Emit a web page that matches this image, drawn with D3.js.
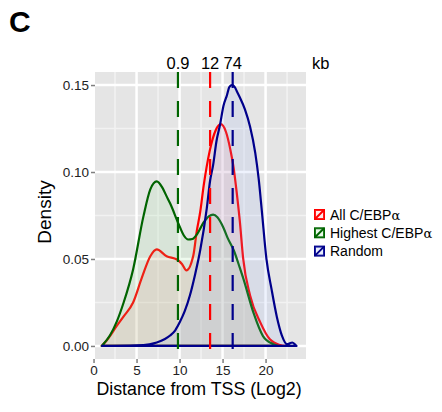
<!DOCTYPE html>
<html>
<head>
<meta charset="utf-8">
<script src="https://cdn.jsdelivr.net/npm/d3@7"></script>
<style>
body { margin: 0; background: #fff; }
text { font-family: "Liberation Sans", Arial, sans-serif; }
</style>
</head>
<body>
<svg id="d3" width="442" height="412"></svg>
<script>
// density curves, x = log2 distance, y = density
var allX = [0.95, 1.5, 2.7, 3.5, 4.6, 5.6, 6.6, 7.35, 8.5, 9.7, 10.3, 10.8, 11.6, 12.0, 12.4, 12.8, 13.5, 14.2, 14.8, 15.4, 15.9, 16.3, 16.65, 17.0, 17.4, 18.2, 19.4, 20.5, 21.7, 22.3];
var allY = [0, 0.003, 0.0115, 0.017, 0.025, 0.039, 0.0516, 0.0555, 0.0516, 0.0497, 0.047, 0.0434, 0.052, 0.066, 0.077, 0.092, 0.112, 0.124, 0.1275, 0.123, 0.113, 0.102, 0.088, 0.072, 0.05, 0.029, 0.0134, 0.0038, 0.0005, 0];

var highX = [0.95, 1.9, 2.7, 3.5, 4.6, 5.8, 6.6, 7.35, 8.0, 8.5, 8.9, 9.9, 10.5, 11.0, 11.5, 12.0, 12.8, 13.4, 13.9, 14.4, 15.1, 15.6, 16.3, 17.0, 17.4, 18.6, 19.7, 20.9, 21.5];
var highY = [0, 0.006, 0.014, 0.025, 0.044, 0.0745, 0.09, 0.0946, 0.091, 0.086, 0.082, 0.07, 0.0635, 0.0612, 0.0615, 0.064, 0.071, 0.0745, 0.0755, 0.074, 0.068, 0.062, 0.055, 0.045, 0.039, 0.019, 0.0057, 0.001, 0];

var randX = [1.0, 5.0, 6.5, 7.35, 8.3, 8.9, 9.5, 10.06, 10.6, 11.2, 11.8, 12.4, 13.16, 13.55, 13.9, 14.3, 14.7, 15.1, 15.5, 15.8, 16.1, 16.4, 16.7, 17.0, 17.6, 18.2, 18.8, 19.2, 19.56, 20.1, 20.7, 21.3, 21.9, 22.5, 22.8, 23.1, 23.4, 23.6];
var randY = [0, 0.0003, 0.001, 0.002, 0.004, 0.006, 0.009, 0.014, 0.02, 0.029, 0.041, 0.055, 0.079, 0.095, 0.104, 0.118, 0.127, 0.138, 0.144, 0.149, 0.15, 0.149, 0.146, 0.143, 0.136, 0.126, 0.111, 0.096, 0.078, 0.05, 0.0325, 0.017, 0.006, 0.001, 0.0015, 0.002, 0.001, 0];

var seriesNames = ["All C/EBP", "Highest C/EBP", "Random"];
var seriesColors = ["#ff0000", "#006400", "#00008b"];
var fillColors = ["#ff9090", "#90e090", "#8aa6f0"];
var medianKb = ["0.9", "12", "74"];
var xTicks = [0, 5, 10, 15, 20];
var yTicks = [0, 0.05, 0.10, 0.15];

var svg = d3.select('#d3');
var pLeft = 95, pRight = 306, pTop = 72, pBottom = 359;

var x = d3.scaleLinear().domain([0.17, 24.7]).range([pLeft, pRight]);
var y = d3.scaleLinear().domain([-0.0075, 0.1575]).range([pBottom, pTop]);

// panel
svg.append('rect')
	.attr('x', pLeft).attr('y', pTop)
	.attr('width', pRight - pLeft).attr('height', pBottom - pTop)
	.attr('fill', '#e5e5e5');

var minorX = [2.5, 7.5, 12.5, 17.5, 22.5];
var minorY = [0.025, 0.075, 0.125];
svg.selectAll('.minx').data(minorX).enter().append('line')
	.attr('x1', x).attr('x2', x).attr('y1', pTop).attr('y2', pBottom)
	.attr('stroke', '#f2f2f2').attr('stroke-width', 1.5);
svg.selectAll('.miny').data(minorY).enter().append('line')
	.attr('y1', y).attr('y2', y).attr('x1', pLeft).attr('x2', pRight)
	.attr('stroke', '#f2f2f2').attr('stroke-width', 1.5);
svg.selectAll('.majx').data(xTicks).enter().append('line')
	.attr('x1', x).attr('x2', x).attr('y1', pTop).attr('y2', pBottom)
	.attr('stroke', '#fff').attr('stroke-width', 2.5);
svg.selectAll('.majy').data(yTicks).enter().append('line')
	.attr('y1', y).attr('y2', y).attr('x1', pLeft).attr('x2', pRight)
	.attr('stroke', '#fff').attr('stroke-width', 2.5);

// densities, drawn in the order ggplot did
var sets = [[allX, allY], [highX, highY], [randX, randY]];
var area = d3.area().curve(d3.curveMonotoneX)
	.x(function(d){ return x(d[0]); })
	.y0(y(0))
	.y1(function(d){ return y(d[1]); });

sets.forEach(function(s, i){
	var pts = d3.zip(s[0], s[1]);
	svg.append('path')
		.attr('d', area(pts))
		.attr('fill', fillColors[i]).attr('fill-opacity', 0.15)
		.attr('stroke', seriesColors[i]).attr('stroke-width', 2.2)
		.attr('stroke-linejoin', 'round');
});

// median lines
var medLog = medianKb.map(function(k){ return Math.log2(+k * 1000); });
svg.selectAll('.med').data(medLog).enter().append('line')
	.attr('x1', x).attr('x2', x).attr('y1', pTop).attr('y2', pBottom)
	.attr('stroke', function(d, i){ return seriesColors[[1, 0, 2][i]]; })
	.attr('stroke-width', 2.2)
	.attr('stroke-dasharray', '16,13');

svg.selectAll('.medlab').data(medianKb).enter().append('text')
	.attr('x', function(d, i){ return x(medLog[i]); })
	.attr('y', 69)
	.attr('text-anchor', 'middle')
	.attr('font-size', 16.5)
	.text(function(d){ return d; });
svg.append('text').attr('x', 312).attr('y', 69).attr('font-size', 16.5).text('kb');

// axes
var xAxis = svg.append('g').attr('transform', 'translate(0,' + pBottom + ')')
	.call(d3.axisBottom(x).tickValues(xTicks).tickSize(4).tickPadding(2));
var yAxis = svg.append('g').attr('transform', 'translate(' + pLeft + ',0)')
	.call(d3.axisLeft(y).tickValues(yTicks).tickSize(4).tickPadding(2).tickFormat(d3.format('.2f')));
[xAxis, yAxis].forEach(function(a){
	a.select('.domain').remove();
	a.selectAll('line').attr('stroke', '#7f7f7f').attr('stroke-width', 1.5);
	a.selectAll('text').attr('font-size', 13.5).attr('fill', '#222')
		.attr('font-family', '"Liberation Sans", Arial, sans-serif');
});
yAxis.selectAll('text').attr('dy', '0.35em');

svg.append('text')
	.attr('x', 199).attr('y', 395)
	.attr('text-anchor', 'middle').attr('font-size', 17.8)
	.text('Distance from TSS (Log2)');
svg.append('text')
	.attr('transform', 'translate(51,212) rotate(-90)')
	.attr('text-anchor', 'middle').attr('font-size', 19)
	.text('Density');

svg.append('text').attr('x', 9).attr('y', 32)
	.attr('font-size', 30).attr('font-weight', 'bold').text('C');

// legend
var leg = svg.selectAll('.leg').data(seriesNames).enter().append('g')
	.attr('transform', function(d, i){ return 'translate(315,' + (210 + i * 18.3) + ')'; });
leg.append('rect').attr('width', 9).attr('height', 9)
	.attr('fill', '#fff').attr('stroke', function(d, i){ return seriesColors[i]; })
	.attr('stroke-width', 2);
leg.append('rect').attr('width', 9).attr('height', 9)
	.attr('fill', function(d, i){ return fillColors[i]; }).attr('fill-opacity', 0.2);
leg.append('line').attr('x1', 0).attr('y1', 9).attr('x2', 9).attr('y2', 0)
	.attr('stroke', function(d, i){ return seriesColors[i]; }).attr('stroke-width', 2);
var lt = leg.append('text').attr('x', 15).attr('y', 9.5).attr('font-size', 14);
lt.append('tspan').text(function(d){ return d; });
lt.append('tspan').attr('font-family', '"DejaVu Serif", serif').attr('font-size', 13)
	.text(function(d){ return d === 'Random' ? '' : '\u03b1'; });
</script>
</body>
</html>
